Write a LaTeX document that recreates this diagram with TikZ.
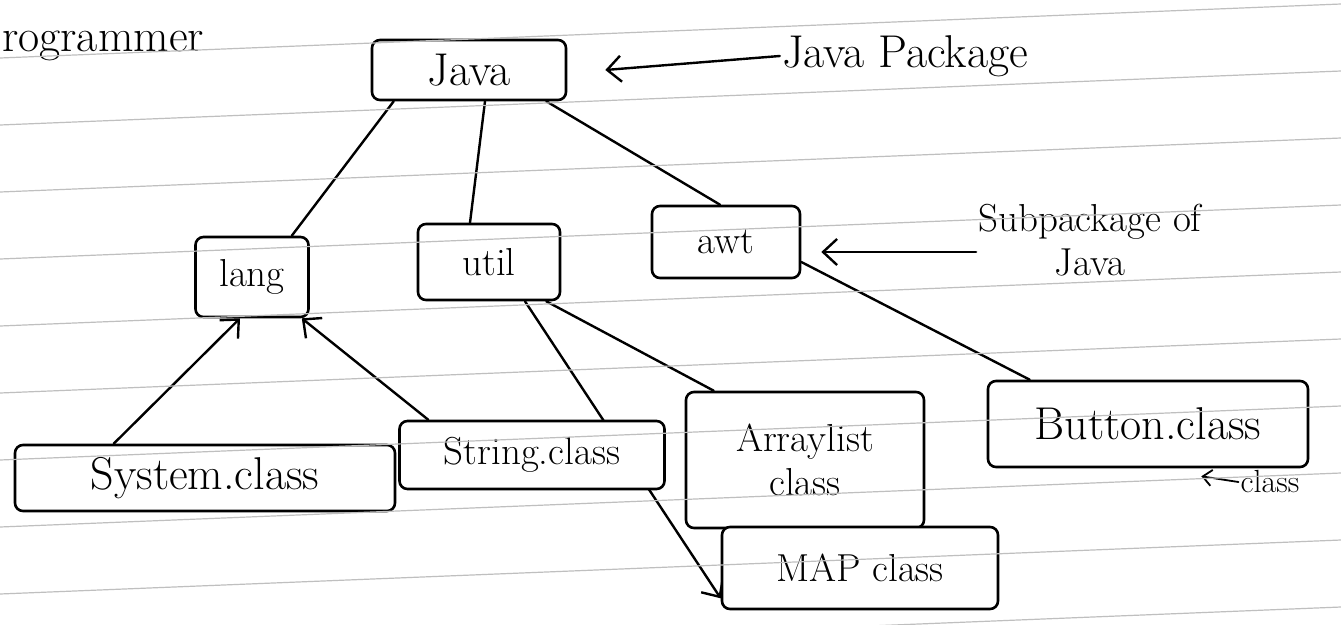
\documentclass[tikz,border=0pt]{standalone}
\usetikzlibrary{arrows.meta,backgrounds}
\newcommand\fsA{\fontsize{46}{52}\selectfont}
\newcommand\fsB{\fontsize{39}{44}\selectfont}
\newcommand\fsC{\fontsize{32}{36}\selectfont}
\tikzset{
  box/.style={draw, line width=2.6pt, rounded corners=8pt, fill=white, inner sep=2pt, align=center},
  link/.style={line width=2.4pt, line cap=round},
  tiplink/.style={link, -{Straight Barb[length=14pt,width=26pt,line width=2.4pt]}},
  note/.style={inner sep=2pt, align=center},
  ruling/.style={draw=black!25, line width=1.2pt}
}
\begin{document}
\begin{tikzpicture}[x=1pt,y=-1pt]
\useasboundingbox (0,0) rectangle (1341,624);

% nodes
\node[box, minimum width=194pt, minimum height=60pt, font=\fsA] (java) at (469,70) {Java};
\node[box, minimum width=113pt, minimum height=80pt, font=\fsB] (lang) at (252,277) {lang};
\node[box, minimum width=142pt, minimum height=76pt, font=\fsB] (util) at (489,262) {util};
\node[box, minimum width=148pt, minimum height=72pt, font=\fsB] (awt) at (726,242) {awt};
\node[box, minimum width=380pt, minimum height=66pt, font=\fsA] (system) at (205,478) {System.class};
\node[box, minimum width=265pt, minimum height=68pt, font=\fsB] (string) at (532,455) {String.class};
\node[box, minimum width=238pt, minimum height=136pt, font=\fsB] (alist) at (805,460) {Arraylist\\class};
\node[box, minimum width=320pt, minimum height=86pt, font=\fsA] (button) at (1148,424) {Button.class};
\node[box, minimum width=276pt, minimum height=82pt, font=\fsB] (map) at (860,568) {MAP class};

% annotations
\node[note, font=\fsA, anchor=west] (prog) at (0,46) {rogrammer};
\node[note, font=\fsA] (jpkg) at (905,56) {Java Package};
\node[note, font=\fsB] (subp) at (1090,240) {Subpackage of\\Java};
\node[note, font=\fsC] (cls) at (1270,482) {class};

% connectors
\begin{pgfonlayer}{background}
\fill[white] (0,0) rectangle (1341,624);
\draw[link] ([xshift=23pt]java.south west) -- ([xshift=-18pt]lang.north east);
\draw[link] ([xshift=16pt]java.south) -- ([xshift=-19pt]util.north);
\draw[link] ([xshift=-21pt]java.south east) -- ([xshift=-6pt]awt.north);
\draw[tiplink] ([xshift=100pt]system.north west) -- ([xshift=-12pt]lang.south);
\draw[tiplink] ([xshift=30pt]string.north west) -- ([xshift=-8pt]lang.south east);
\draw[tiplink] ([xshift=36pt]util.south) -- ([yshift=12pt]map.south west);
\draw[link] ([xshift=-15pt]util.south east) -- ([xshift=29pt]alist.north west);
\draw[link] ([yshift=-20pt]awt.east) -- ([xshift=43pt]button.north west);
\end{pgfonlayer}
\draw[tiplink] (jpkg.west) -- ([xshift=38pt]java.east);
\draw[tiplink] ([yshift=-12pt]subp.west) -- ([xshift=20pt,yshift=-10pt]awt.east);
\draw[link, -{Straight Barb[length=9pt,width=16pt,line width=1.8pt]}, line width=1.8pt] (cls.west) -- ([xshift=-108pt,yshift=-8pt]button.south east);

% ruled paper lines
\foreach \k in {0,...,9}
  \draw[ruling] (0,{58+67*\k}) -- (1341,{58+67*\k-54});
\end{tikzpicture}
\end{document}
